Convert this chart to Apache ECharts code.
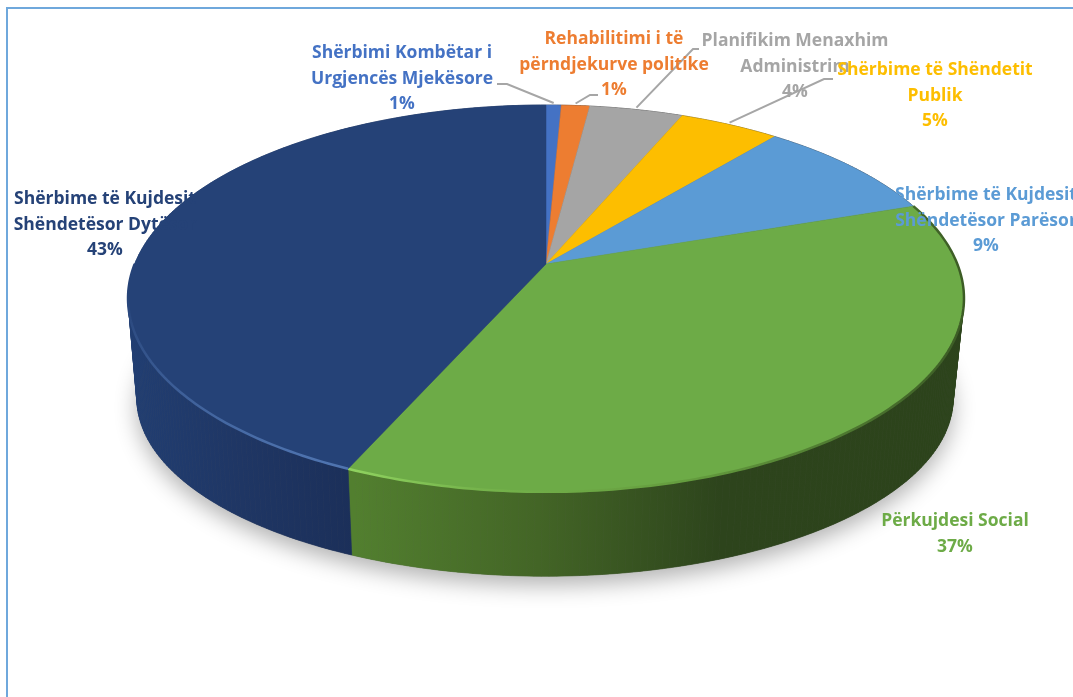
<!DOCTYPE html>
<html>
<head>
<meta charset="utf-8">
<title>Pie</title>
<script src="https://cdn.jsdelivr.net/npm/echarts@6/dist/echarts.min.js"></script>
<style>
  html, body { margin: 0; background: #fff; overflow: hidden; }
  #chart { width: 1073px; height: 697px; }
</style>
</head>
<body>
<div id="chart"></div>
<script>
const categories = [
  'Shërbimi Kombëtar i\nUrgjencës Mjekësore',
  'Rehabilitimi i të\npërndjekurve politike',
  'Planifikim Menaxhim\nAdministrim',
  'Shërbime të Shëndetit\nPublik',
  'Shërbime të Kujdesit\nShëndetësor Parësor',
  'Përkujdesi Social',
  'Shërbime të Kujdesit\nShëndetësor Dytësor'
];
const values = [0.7, 1.3, 4.3, 4.6, 8.8, 36.9, 43.4];
const colors = ['#4472c4', '#ed7d31', '#a5a5a5', '#fdbe00', '#5b9bd5', '#6dab47', '#254277'];

// where each label sits: centre x, centre y of the first line
const labelAnchors = [[402, 53], [614, 39], [795, 41], [935, 70], [986, 195], [955, 521], [105, 199]];
// elbow of the leader line, from the label side
const leaders = [[[497, 84], [507, 84]], [[598, 95], [590, 95]], [[699, 49], [693, 49]], [[833, 79], [824, 79]]];

const polarR = 100;
const topRing = { x: 546, y: 264, a: 411.3, b: 187.3, c: 0.178 };
const baseRing = { x: 545, y: 367, a: 401.6, b: 172, c: 0.178 };
// the lit bevel on the navy slice stops at the far left of the disc
const rimEndLimit = 75;

const starts = [];
let running = 0;
values.forEach(v => { starts.push(running); running += v; });
const sliceData = values.map((v, i) => [1, starts[i], starts[i] + v, i]);

function ringPoint(api, ring, angle) {
  const p = api.coord([1, angle]);
  const o = api.coord([0, 0]);
  const u = (p[0] - o[0]) / polarR;
  const v = (p[1] - o[1]) / polarR;
  const d = 1 - ring.c * v;
  return [ring.x + ring.a * u / d, ring.y + ring.b * v / d];
}

function arcPoints(api, ring, from, to) {
  const n = Math.max(2, Math.ceil((to - from) * 4));
  const pts = [];
  for (let k = 0; k <= n; k++) pts.push(ringPoint(api, ring, from + (to - from) * k / n));
  return pts;
}

function gradient(x, y, x2, y2, stops) {
  return new echarts.graphic.LinearGradient(x, y, x2, y2, stops, true);
}

const wallFills = {
  5: gradient(356, 0, 964, 0, [
    { offset: 0, color: '#527f2f' },
    { offset: 0.3, color: '#436526' },
    { offset: 0.6, color: '#2d441c' },
    { offset: 1, color: '#2c431b' }
  ]),
  6: gradient(128, 0, 356, 0, [
    { offset: 0, color: '#213e72' },
    { offset: 0.5, color: '#1f3664' },
    { offset: 1, color: '#1b2f59' }
  ])
};
const rimStrokes = {
  5: gradient(353, 0, 964, 0, [
    { offset: 0, color: '#8fd25f' },
    { offset: 0.2, color: '#76b44c' },
    { offset: 0.55, color: '#649c3e' },
    { offset: 1, color: '#3c5c25' }
  ]),
  6: gradient(0, 290, 0, 465, [
    { offset: 0, color: '#254277' },
    { offset: 1, color: '#4f74b0' }
  ])
};

function renderShadow(params, api) {
  if (params.dataIndex !== 0) return null;
  return {
    type: 'polygon',
    shape: { points: arcPoints(api, baseRing, 0, 100) },
    style: { fill: '#555', shadowBlur: 22, shadowColor: 'rgba(0,0,0,0.3)', shadowOffsetY: 9 }
  };
}

function renderWall(params, api) {
  const from = api.value(1), to = api.value(2), i = api.value(3);
  const upper = arcPoints(api, topRing, from, to);
  const lower = arcPoints(api, baseRing, from, to);
  const fill = wallFills[i] || '#333';
  const quads = [];
  for (let k = 0; k < upper.length - 1; k++) {
    quads.push({
      type: 'polygon',
      shape: { points: [upper[k], upper[k + 1], lower[k + 1], lower[k]] },
      style: { fill: fill, stroke: fill, lineWidth: 0.6 }
    });
  }
  return { type: 'group', children: quads };
}

function renderTop(params, api) {
  const from = api.value(1), to = api.value(2), i = api.value(3);
  const rim = arcPoints(api, topRing, from, to);
  const children = [{
    type: 'polygon',
    shape: { points: [[topRing.x, topRing.y]].concat(rim) },
    style: { fill: colors[i], stroke: colors[i], lineWidth: 0.5 }
  }];
  if (rimStrokes[i]) {
    children.push({
      type: 'polyline',
      shape: { points: arcPoints(api, topRing, from, Math.min(to, from > 50 ? rimEndLimit : to)) },
      style: { fill: null, stroke: rimStrokes[i], lineWidth: 2.5 }
    });
  }
  if (leaders[i]) {
    const end = ringPoint(api, topRing, (from + to) / 2);
    children.push({
      type: 'polyline',
      shape: { points: leaders[i].concat([[end[0], end[1] - 2]]) },
      style: { fill: null, stroke: '#a6a6a6', lineWidth: 2 }
    });
  }
  return { type: 'group', children: children };
}

function customSeries(renderItem, z) {
  return {
    type: 'custom',
    coordinateSystem: 'polar',
    data: sliceData,
    encode: { radius: 0, angle: 1 },
    renderItem: renderItem,
    silent: true,
    clip: false,
    z: z
  };
}

const labelElements = categories.map((name, i) => ({
  type: 'text',
  x: labelAnchors[i][0],
  y: labelAnchors[i][1] - 12.5,
  z: 100,
  style: {
    text: name + '\n' + Math.round(values[i]) + '%',
    fill: colors[i],
    font: 'bold 17.5px "Open Sans"',
    lineHeight: 25.5,
    textAlign: 'center',
    textVerticalAlign: 'top'
  }
}));

const chart = echarts.init(document.getElementById('chart'), null, { renderer: 'canvas' });
chart.setOption({
  animation: false,
  backgroundColor: '#ffffff',
  polar: { center: [topRing.x, topRing.y], radius: polarR },
  radiusAxis: { min: 0, max: 1, show: false },
  angleAxis: { min: 0, max: 100, startAngle: 90, clockwise: true, show: false },
  series: [
    customSeries(renderShadow, 1),
    customSeries(renderWall, 2),
    customSeries(renderTop, 3)
  ],
  graphic: [{
    type: 'rect',
    z: 0,
    shape: { x: 7, y: 8, width: 1300, height: 1000 },
    style: { fill: null, stroke: '#6fa8dc', lineWidth: 2 }
  }].concat(labelElements)
});
</script>
</body>
</html>
